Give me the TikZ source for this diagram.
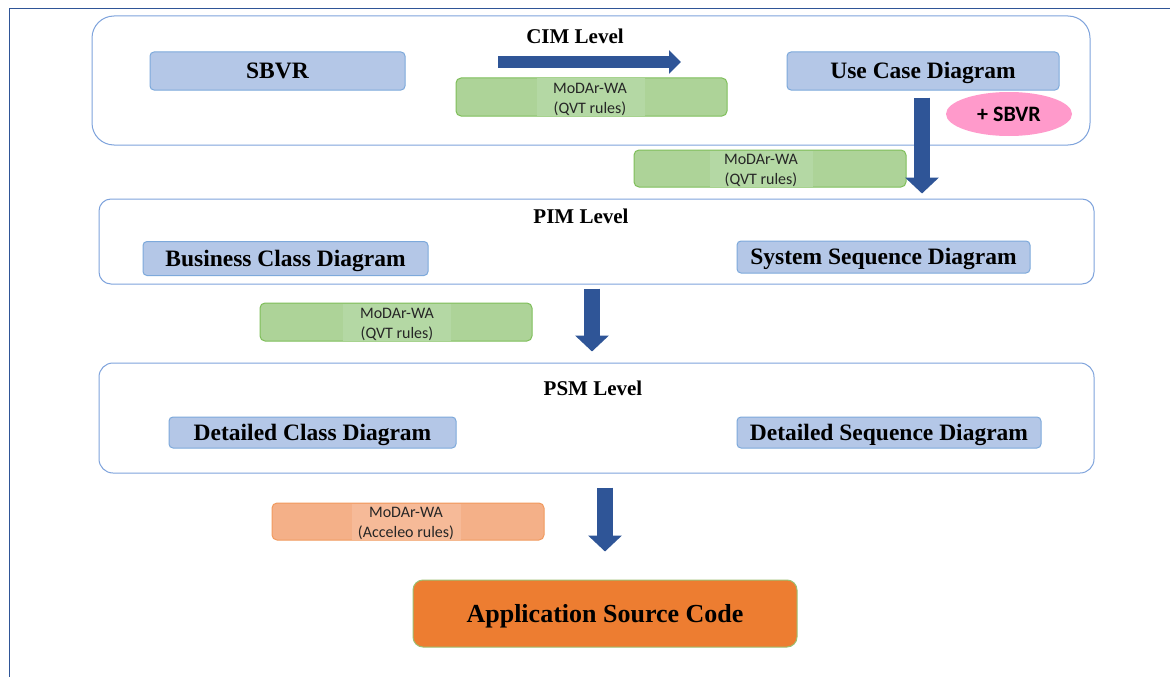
\documentclass[tikz,border=0pt]{standalone}
\usepackage{fontspec}
\setmainfont{Liberation Serif}
\newfontfamily\calib{Carlito}
\usetikzlibrary{arrows.meta,shapes.geometric}
\definecolor{framecol}{HTML}{2F5597}
\definecolor{contcol}{HTML}{7EA3DC}
\definecolor{bluefill}{HTML}{B4C7E7}
\definecolor{blueline}{HTML}{7DA9DB}
\definecolor{arrowcol}{HTML}{2F5597}
\definecolor{greenfill}{HTML}{ADD398}
\definecolor{greeninner}{HTML}{B4D8A4}
\definecolor{greenline}{HTML}{7FBF5A}
\definecolor{orfill}{HTML}{F4B088}
\definecolor{orinner}{HTML}{F6BA98}
\definecolor{orline}{HTML}{F19A5E}
\definecolor{appfill}{HTML}{ED7D31}
\definecolor{appline}{HTML}{9CBF72}
\definecolor{pinkfill}{HTML}{FF9ACB}
\tikzset{
  container/.style={draw=contcol, line width=1pt, fill=white, inner sep=0pt},
  levellabel/.style={font=\fontsize{21}{23}\selectfont\bfseries, inner sep=0pt,
    text height=13.9pt, text depth=0pt},
  bluebox/.style={draw=blueline, line width=1pt, fill=bluefill, rounded corners=4pt,
    font=\fontsize{23.5}{25}\selectfont\bfseries, inner sep=0pt,
    text height=15.6pt, text depth=0pt},
  rulebox/.style={draw=greenline, line width=1pt, fill=greenfill, rounded corners=5pt, inner sep=0pt},
  orbox/.style={draw=orline, line width=1pt, fill=orfill, rounded corners=5pt, inner sep=0pt},
  ruletext/.style={font=\calib\fontsize{16}{20}\selectfont, align=center, inner sep=0pt, text=black!85},
  bigarrow/.style={draw=arrowcol, line width=16pt,
    -{Triangle[width=33pt,length=16pt]}},
  rightarrow/.style={draw=arrowcol, line width=12pt,
    -{Triangle[width=23pt,length=12pt]}},
}
\begin{document}
\begin{tikzpicture}[x=1pt,y=-1pt]
\useasboundingbox (0,0) rectangle (1170,677);
\fill[white] (0,0) rectangle (1170,677);
% outer frame
\coordinate (fbl) at (9,677);
\coordinate (ftl) at (9,9);
\coordinate (ftr) at (1170,9);
\draw[framecol, line width=1pt] (fbl) -- (ftl) -- (ftr);

% containers
\node[container, rounded corners=22pt, minimum width=998pt, minimum height=129pt] (cim) at (591,80.5) {};
\node[container, rounded corners=12pt, minimum width=995pt, minimum height=85pt] (pim) at (596.5,241.5) {};
\node[container, rounded corners=14pt, minimum width=995pt, minimum height=110pt] (psm) at (596.5,418) {};

% level labels
\node[levellabel] (cimlab) at (575,37) {CIM Level};
\node[levellabel] (pimlab) at (581,217) {PIM Level};
\node[levellabel] (psmlab) at (593,389) {PSM Level};

% blue boxes
\node[bluebox, minimum width=255pt, minimum height=38pt] (sbvr) at (277.5,71) {SBVR};
\node[bluebox, minimum width=272pt, minimum height=38pt] (uc) at (923,71) {Use Case Diagram};
\node[bluebox, minimum width=285pt, minimum height=34pt] (bcd) at (285.5,258.5) {Business Class Diagram};
\node[bluebox, minimum width=293pt, minimum height=32pt] (ssd) at (883.5,257) {System Sequence Diagram};
\node[bluebox, minimum width=287pt, minimum height=31pt] (dcd) at (312.5,432.5) {Detailed Class Diagram};
\node[bluebox, minimum width=304pt, minimum height=31pt] (dsd) at (889,432.5) {Detailed Sequence Diagram};

% +SBVR ellipse
\node[ellipse, fill=pinkfill, draw=none, minimum width=126pt, minimum height=44pt, inner sep=0pt,
  font=\calib\fontsize{22}{24}\selectfont\bfseries, text height=14.2pt, text depth=0pt] (plus) at (1009,114) {+ SBVR};

% rule boxes
\node[rulebox, minimum width=271pt, minimum height=38pt] (g1) at (591.5,97) {};
\fill[greeninner] (537,78.5) rectangle (645,115.5);
\node[ruletext] (g1t) at (590,99) {MoDAr-WA\\(QVT rules)};

\node[rulebox, minimum width=272pt, minimum height=37pt] (g2) at (770,168.5) {};
\fill[greeninner] (710,150.5) rectangle (813,186.5);
\node[ruletext] (g2t) at (761,170.5) {MoDAr-WA\\(QVT rules)};

\node[rulebox, minimum width=272pt, minimum height=38pt] (g3) at (396,322) {};
\fill[greeninner] (343,303.5) rectangle (451,340.5);
\node[ruletext] (g3t) at (397,324) {MoDAr-WA\\(QVT rules)};

\node[orbox, minimum width=272pt, minimum height=37pt] (o1) at (408,521.5) {};
\fill[orinner] (352,503.5) rectangle (461,539.5);
\node[ruletext] (o1t) at (406,523.5) {MoDAr-WA\\(Acceleo rules)};

% application source code
\node[draw=appline, line width=1pt, fill=appfill, rounded corners=10pt, inner sep=0pt,
  minimum width=384pt, minimum height=67pt, font=\fontsize{26}{28}\selectfont\bfseries,
  text height=17.2pt, text depth=0pt] (app) at (605,613.5) {Application Source Code};

% arrows
\coordinate (a0s) at (498,62);
\coordinate (a0e) at (681,62);
\draw[rightarrow] (a0s) -- (a0e);

\coordinate (x1) at (922,0);
\coordinate (x2) at (592,0);
\coordinate (x3) at (605,0);
\draw[bigarrow] ([yshift=-7pt]uc.south -| x1) -- ([yshift=5pt]pim.north -| x1);
\draw[bigarrow] ([yshift=-4pt]pim.south -| x2) -- ([yshift=11pt]psm.north -| x2);
\draw[bigarrow] ([yshift=-14pt]psm.south -| x3) -- ([yshift=28pt]app.north -| x3);
\end{tikzpicture}
\end{document}
